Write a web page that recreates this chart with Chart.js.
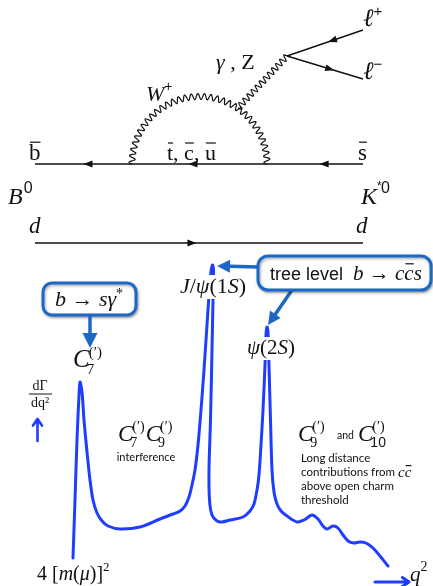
<!DOCTYPE html>
<html>
<head>
<meta charset="utf-8">
<script src="https://cdn.jsdelivr.net/npm/chart.js@4.4.1/dist/chart.umd.min.js"></script>
<style>
  html, body { margin: 0; padding: 0; background: #fff; }
  canvas { display: block; }
</style>
</head>
<body>
<canvas id="diagram" width="433" height="586"></canvas>
<script>
// dGamma/dq^2 sketch (x grows right, y grows down)
const curveX = [73, 75, 77, 79, 80, 82, 84, 87, 90, 93, 97, 102, 108, 120, 140, 160, 173, 180, 185, 189, 192, 195, 198, 201, 204, 207, 209, 211, 212.5,
  213.5, 213, 212, 210.5, 209, 209.5, 212, 217, 222, 230, 243, 250, 254, 257, 259, 261, 263, 265, 266, 267,
  268, 269, 270.5, 272, 274, 277, 281, 287, 297, 304, 312, 318, 323, 327, 333, 338, 343, 348, 354, 360, 366, 373, 380, 388];
const curveY = [558, 500, 440, 395, 382, 392, 420, 452, 480, 500, 513, 521, 526, 529, 527, 519, 514, 511, 506, 497, 485, 470, 445, 410, 370, 325, 295, 272, 265,
  270, 300, 350, 420, 470, 500, 515, 521, 522, 520, 517, 511, 504, 490, 475, 445, 410, 365, 335, 327,
  332, 365, 420, 470, 492, 504, 511, 516, 522, 520, 515, 519, 526, 529, 526, 528, 535, 541, 543, 542, 543, 548, 556, 566];

// Feynman diagram: fermion lines (start -> end)
const lineStartX = [35, 35, 287, 287];
const lineStartY = [164, 243, 56, 56];
const lineEndX = [363, 363, 363, 363];
const lineEndY = [164, 243, 30, 79];
// arrows on fermion lines: which line, where along it, direction
const arrowLine = [0, 0, 0, 1, 2, 3];
const arrowAt = [0.16, 0.48, 0.88, 0.48, 0.59, 0.57];
const arrowDir = [-1, -1, -1, 1, -1, 1];
// W loop (ends on the b line) and the gamma/Z line
const wLoopX = [132, 267];
const wLoopY = [164, 164];
const bosonX = [238, 287];
const bosonY = [108, 56];

const SERIF = '"Liberation Serif","DejaVu Serif",serif';
const SANS = '"Liberation Sans",Arial,sans-serif';
const BODY = 'Lato,"Open Sans",sans-serif';
const CURVE_BLUE = '#1f3dff';
const BOX_BLUE = '#1d68c6';

function fnt(p) {
  return (p.i ? 'italic ' : '') + p.s + 'px ' + (p.f || SERIF);
}

// draw a run of text pieces on one baseline
function runs(ctx, x, y, parts, align, bg) {
  let w = 0;
  parts.forEach(p => { ctx.font = fnt(p); p.w = p.w0 !== undefined ? p.w0 : ctx.measureText(p.t).width; w += p.w + (p.g || 0); });
  let cx = align === 'center' ? x - w / 2 : (align === 'right' ? x - w : x);
  if (bg) { ctx.fillStyle = '#fff'; ctx.fillRect(cx - bg[0], y - bg[1], w + 2 * bg[0], bg[2]); }
  ctx.fillStyle = '#111';
  parts.forEach(p => {
    ctx.font = fnt(p);
    const yy = y + (p.dy || 0);
    ctx.fillText(p.t, cx + (p.dx || 0), yy);
    if (p.bar) ctx.fillRect(cx + (p.dx || 0) + 1, yy - p.s * 0.8, ctx.measureText(p.t).width - 1, 1.2);
    cx += p.w + (p.g || 0);
  });
  return w;
}

// C with sub- and superscript, e.g. C_7^(')
function coef(ctx, x, y, sub, s) {
  ctx.fillStyle = '#111';
  ctx.font = 'italic ' + s + 'px ' + SERIF;
  ctx.fillText('C', x, y);
  const wc = ctx.measureText('C').width;
  const ss = Math.round(s * 0.6);
  ctx.font = ss + 'px ' + SERIF;
  ctx.fillText('(\u2032)', x + wc - 1, y - s * 0.42);
  ctx.font = ss + 'px ' + (sub.length > 1 ? SANS : SERIF);
  ctx.fillText(sub, x + wc - 3, y + s * 0.26);
  return wc + Math.max(ctx.measureText(sub).width, ss * 1.1);
}

function tri(ctx, tx, ty, ang, len, hw) {
  ctx.beginPath();
  ctx.moveTo(tx, ty);
  ctx.lineTo(tx - len * Math.cos(ang) + hw * Math.sin(ang), ty - len * Math.sin(ang) - hw * Math.cos(ang));
  ctx.lineTo(tx - len * Math.cos(ang) - hw * Math.sin(ang), ty - len * Math.sin(ang) + hw * Math.cos(ang));
  ctx.closePath();
  ctx.fill();
}

function fatArrow(ctx, x0, y0, x1, y1, col, lw, len, hw) {
  const ang = Math.atan2(y1 - y0, x1 - x0);
  ctx.strokeStyle = col; ctx.fillStyle = col; ctx.lineWidth = lw;
  ctx.beginPath(); ctx.moveTo(x0, y0);
  ctx.lineTo(x1 - (len - 1) * Math.cos(ang), y1 - (len - 1) * Math.sin(ang)); ctx.stroke();
  tri(ctx, x1, y1, ang, len, hw);
}

function openArrow(ctx, x0, y0, x1, y1, col, lw, len) {
  const ang = Math.atan2(y1 - y0, x1 - x0);
  ctx.strokeStyle = col; ctx.lineWidth = lw; ctx.lineCap = 'round'; ctx.lineJoin = 'round';
  ctx.beginPath(); ctx.moveTo(x0, y0); ctx.lineTo(x1, y1);
  ctx.moveTo(x1 - len * Math.cos(ang - 0.6), y1 - len * Math.sin(ang - 0.6));
  ctx.lineTo(x1, y1);
  ctx.lineTo(x1 - len * Math.cos(ang + 0.6), y1 - len * Math.sin(ang + 0.6));
  ctx.stroke();
}

function roundBox(ctx, x0, y0, x1, y1, r) {
  ctx.save();
  ctx.shadowColor = 'rgba(0,0,0,0.35)'; ctx.shadowBlur = 3; ctx.shadowOffsetX = 1; ctx.shadowOffsetY = 1.5;
  ctx.lineWidth = 3; ctx.strokeStyle = BOX_BLUE; ctx.fillStyle = '#fff';
  ctx.beginPath(); ctx.roundRect(x0, y0, x1 - x0, y1 - y0, r); ctx.fill(); ctx.stroke();
  ctx.restore();
}

const diagramPlugin = {
  id: 'diagram',
  afterDatasetsDraw(chart) {
    const ctx = chart.ctx;
    const X = v => chart.scales.x.getPixelForValue(v);
    const Y = v => chart.scales.y.getPixelForValue(v);
    ctx.save();

    // arrows on fermion lines
    ctx.fillStyle = '#111';
    arrowLine.forEach((li, k) => {
      const x0 = X(lineStartX[li]), y0 = Y(lineStartY[li]), x1 = X(lineEndX[li]), y1 = Y(lineEndY[li]);
      const t = arrowAt[k];
      let ang = Math.atan2(y1 - y0, x1 - x0);
      if (arrowDir[k] < 0) ang += Math.PI;
      const tx = x0 + (x1 - x0) * t + 4 * Math.cos(ang), ty = y0 + (y1 - y0) * t + 4 * Math.sin(ang);
      tri(ctx, tx, ty, ang, 9, 3.4);
    });

    // W loop: wavy half circle
    ctx.strokeStyle = '#111'; ctx.lineWidth = 1.2;
    const ax0 = X(wLoopX[0]), ax1 = X(wLoopX[1]), ay = Y(wLoopY[0]);
    const cx = (ax0 + ax1) / 2, r = (ax1 - ax0) / 2;
    const nW = 33;
    ctx.beginPath();
    for (let i = 0; i <= 600; i++) {
      const u = i / 600, th = Math.PI * (1 - u);
      const rr = r + 3 * Math.sin(2 * Math.PI * nW * u);
      const px = cx + rr * Math.cos(th), py = ay - rr * Math.sin(th);
      if (i === 0) ctx.moveTo(ax0, ay), ctx.lineTo(px, py); else ctx.lineTo(px, py);
    }
    ctx.stroke();

    // gamma / Z: wavy line
    const bx0 = X(bosonX[0]), by0 = Y(bosonY[0]), bx1 = X(bosonX[1]), by1 = Y(bosonY[1]);
    const L = Math.hypot(bx1 - bx0, by1 - by0), nx = -(by1 - by0) / L, ny = (bx1 - bx0) / L;
    const nB = 12;
    ctx.beginPath();
    for (let i = 0; i <= 300; i++) {
      const u = i / 300, o = 3 * Math.sin(2 * Math.PI * nB * u);
      const px = bx0 + (bx1 - bx0) * u + nx * o, py = by0 + (by1 - by0) * u + ny * o;
      if (i === 0) ctx.moveTo(px, py); else ctx.lineTo(px, py);
    }
    ctx.stroke();

    ctx.textBaseline = 'alphabetic';
    // Feynman diagram labels
    runs(ctx, X(29), Y(160), [{t: 'b', s: 23, bar: true}]);
    runs(ctx, X(167), Y(160), [{t: 't', s: 22, bar: true}, {t: ', ', s: 22}, {t: 'c', s: 22, bar: true}, {t: ', ', s: 22}, {t: 'u', s: 22, bar: true}]);
    runs(ctx, X(358), Y(160), [{t: 's', s: 23, bar: true}]);
    runs(ctx, X(8), Y(204), [{t: 'B', s: 24, i: true}, {t: '0', s: 16, f: SANS, dy: -11, dx: 1}]);
    runs(ctx, X(361), Y(204), [{t: 'K', s: 24, i: true}, {t: '*', s: 12, f: SANS, dy: -14, w0: 0}, {t: '0', s: 16, f: SANS, dy: -11, dx: 4}]);
    runs(ctx, X(29), Y(233), [{t: 'd', s: 23, i: true}]);
    runs(ctx, X(356), Y(233), [{t: 'd', s: 23, i: true}]);
    runs(ctx, X(146), Y(101), [{t: 'W', s: 22, i: true}, {t: '+', s: 14, f: SANS, dy: -10}]);
    runs(ctx, X(216), Y(69), [{t: '\u03b3', s: 22, i: true}, {t: ' , ', s: 22}, {t: 'Z', s: 22}]);
    runs(ctx, X(363), Y(26), [{t: '\u2113', s: 25, i: true}, {t: '+', s: 15, f: SANS, dy: -10}]);
    runs(ctx, X(363), Y(79), [{t: '\u2113', s: 25, i: true}, {t: '\u2212', s: 15, f: SANS, dy: -10}]);

    // peak labels (white backing hides the curve behind them)
    runs(ctx, X(213), Y(293), [{t: 'J', s: 22, i: true}, {t: '/', s: 22}, {t: '\u03c8', s: 22, i: true}, {t: '(1', s: 22}, {t: 'S', s: 22, i: true}, {t: ')', s: 22}], 'center', [0, 18, 24]);
    runs(ctx, X(271), Y(354), [{t: '\u03c8', s: 21, i: true}, {t: '(2', s: 21}, {t: 'S', s: 21, i: true}, {t: ')', s: 21}], 'center', [0, 17, 23]);

    // annotation boxes and arrows
    roundBox(ctx, X(43), Y(283), X(136), Y(315), 9);
    runs(ctx, X(89), Y(306), [{t: 'b', s: 22, i: true}, {t: ' \u2192 ', s: 22}, {t: 's\u03b3', s: 22, i: true}, {t: '*', s: 14, dy: -8}], 'center');
    fatArrow(ctx, X(90), Y(316), X(90), Y(348), BOX_BLUE, 3.5, 15, 7.5);
    coef(ctx, X(73), Y(367), '7', 25);

    fatArrow(ctx, X(258), Y(267), X(217), Y(266), BOX_BLUE, 3.5, 13, 6.5);
    fatArrow(ctx, X(292), Y(290), X(268), Y(325), BOX_BLUE, 3.5, 13, 6.5);
    roundBox(ctx, X(258), Y(256), X(431), Y(290), 10);
    runs(ctx, X(270), Y(280), [{t: 'tree level', s: 18, f: SANS}, {t: '  ', s: 18, f: SANS}, {t: 'b', s: 21, i: true}, {t: ' \u2192 ', s: 21}, {t: 'c', s: 21, i: true}, {t: 'c', s: 21, i: true, bar: true}, {t: 's', s: 21, i: true}]);

    // spectrum annotations
    ctx.fillStyle = '#111';
    ctx.font = '14px ' + SERIF; ctx.textAlign = 'center';
    ctx.fillText('d\u0393', X(40), Y(390));
    ctx.fillText('dq\u00b2', X(40), Y(407));
    ctx.fillRect(X(29), Y(393.5), X(52) - X(29), 1);
    ctx.textAlign = 'left';
    openArrow(ctx, X(37.5), Y(441), X(37.5), Y(419), CURVE_BLUE, 2.6, 8);

    const w1 = coef(ctx, X(118), Y(441), '7', 23);
    coef(ctx, X(118) + w1 - 3, Y(441), '9', 23);
    ctx.font = '11px ' + BODY; ctx.fillStyle = '#111'; ctx.textAlign = 'center';
    ctx.fillText('interference', X(146), Y(461));
    ctx.textAlign = 'left';

    coef(ctx, X(298), Y(441), '9', 23);
    ctx.font = '10.5px ' + BODY; ctx.fillStyle = '#111';
    ctx.fillText('and', X(337), Y(439));
    coef(ctx, X(358), Y(441), '10', 23);

    ctx.font = '11.5px ' + BODY;
    ctx.fillText('Long distance', X(301), Y(462));
    ctx.fillText('contributions from ', X(301), Y(476));
    const cw = ctx.measureText('contributions from ').width;
    runs(ctx, X(301) + cw, Y(477), [{t: 'c', s: 15, i: true}, {t: 'c', s: 15, i: true, bar: true}]);
    ctx.font = '11.5px ' + BODY; ctx.fillStyle = '#111';
    ctx.fillText('above open charm', X(301), Y(490));
    ctx.fillText('threshold', X(301), Y(504));

    runs(ctx, X(37), Y(580), [{t: '4 [', s: 20}, {t: 'm', s: 20, i: true}, {t: '(', s: 20}, {t: '\u03bc', s: 20, i: true}, {t: ')]', s: 20}, {t: '2', s: 13, dy: -9}]);
    openArrow(ctx, X(375), Y(582), X(409), Y(582), CURVE_BLUE, 3, 8);
    runs(ctx, X(410), Y(581), [{t: 'q', s: 21, i: true}, {t: '2', s: 14, dy: -10}]);

    ctx.restore();
  }
};

const fermionSets = lineStartX.map((x0, i) => ({
  data: [{x: x0, y: lineStartY[i]}, {x: lineEndX[i], y: lineEndY[i]}],
  showLine: true, borderColor: '#111', borderWidth: 1.4, pointRadius: 0, clip: false
}));

new Chart(document.getElementById('diagram'), {
  type: 'scatter',
  data: {
    datasets: [{
      label: 'dGamma/dq2',
      data: curveX.map((x, i) => ({x: x, y: curveY[i]})),
      showLine: true,
      borderColor: CURVE_BLUE,
      borderWidth: 3,
      borderJoinStyle: 'round',
      borderCapStyle: 'round',
      pointRadius: 0,
      tension: 0.3,
      clip: false
    }].concat(fermionSets)
  },
  options: {
    responsive: false,
    animation: false,
    layout: {padding: 0},
    plugins: {legend: {display: false}, tooltip: {enabled: false}},
    scales: {
      x: {type: 'linear', min: 0, max: 433, display: false},
      y: {type: 'linear', min: 0, max: 586, reverse: true, display: false}
    }
  },
  plugins: [diagramPlugin]
});
</script>
</body>
</html>
